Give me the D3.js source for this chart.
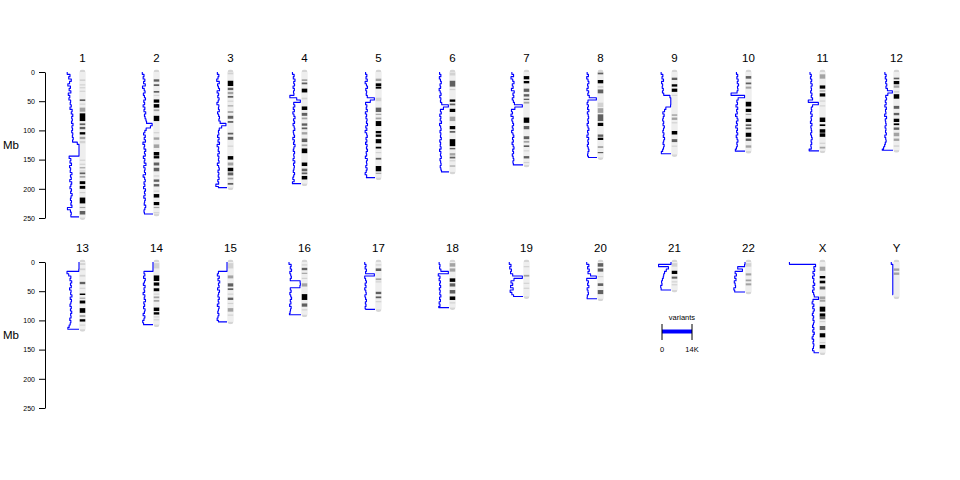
<!DOCTYPE html>
<html><head><meta charset="utf-8">
<script src="https://cdn.jsdelivr.net/npm/d3@7"></script>
<style>body{margin:0;background:#fff} text{font-family:"Liberation Sans",Arial,sans-serif}</style>
</head><body><svg id="c" width="960" height="480"></svg>
<script>
const chromNames = ["1","2","3","4","5","6","7","8","9","10","11","12","13","14","15","16","17","18","19","20","21","22","X","Y"];
const chromLengthsMb = [249.3,243.2,198.0,191.2,180.9,171.1,159.1,146.4,141.2,135.5,135.0,133.9,115.2,107.3,102.5,90.4,81.2,78.1,59.1,63.0,48.1,51.3,155.3,59.4];
const axisTicksMb = [0,50,100,150,200,250];
const legendTickValues = [0,14];
const legendTickLabels = ["0","14K"];
const legendTitle = "variants";
const axisTitle = "Mb";
const densityMaxK = 14;
const binMb = 4;

// cytobands: [startMb, endMb, stain]
const bands1 = [[12.6,15.4,25],[21,23,25],[26,28,25],[32,34,25],[46.8,49.7,75],[54,56,25],[61,68,50],[70.8,84,100],[88,91,75],[94,98,75],[103,107,100],[111,115,50],[118,122,25],[150,152,25],[157,159,25],[163,165,50],[168.5,170.5,25],[172,175,75],[178,181,50],[187,192,100],[195,200,100],[205.5,207.5,25],[215,225,100],[231,233,50],[238,244,75]];
const bands2 = [[12.5,16.5,75],[21,24,75],[32.5,35.4,75],[39,41,25],[47,52.5,100],[55,61,100],[64,67,50],[75,84,100],[103,105,25],[112,116,50],[124,130,50],[137,143,100],[144,148,100],[155,160,75],[164,170,75],[177,179,25],[184,188,75],[192,196,75],[203,205,25],[209,215,100],[222.6,228,100],[231,233,50],[240,242,25]];
const bands3 = [[1,4,25],[15,24,100],[27,31,75],[34,38,50],[41,44,75],[49,51,25],[57,59,50],[67,70,50],[75,80,75],[84,87,75],[104,107,75],[111,116,75],[126,128,25],[144,150,100],[155,160,50],[164,170,100],[172,177,75],[181,184,50],[190,193,75]];
const bands4 = [[12.5,15.4,50],[18,21,75],[28.5,35,100],[44,47,25],[59,65,100],[70,75,75],[78,81,50],[88,92,75],[95,98,75],[103,107,50],[114,120,75],[124,127,50],[131,139,100],[155,161,100],[165.5,170,75],[172,175,75],[178,184,100]];
const bands5 = [[11.4,15.4,50],[19.4,24,100],[25,28.5,100],[44,50,25],[61,68.5,75],[71.5,73.5,50],[78,81,50],[84,92.5,100],[101,105,100],[107,111,100],[115,122,100],[128,131,100],[137,139,25],[147,150,75],[161,170,100],[172.5,174.5,50]];
const bands6 = [[1,6,25],[15,25,75],[29,31,25],[47,51,100],[54,57,75],[63,68.5,100],[76.5,84,50],[92.5,98,100],[101,104,75],[115,127,100],[130,132.4,75],[139,143,50],[145,148,75],[151,153,25],[160,162,50]];
const bands7 = [[7,12.5,100],[15.4,19.4,100],[28.5,34,75],[38,42,75],[45.7,48,75],[51,54,50],[78,87,100],[92.5,98,75],[110,115,75],[118,121,50],[125.6,128.4,75],[134,136,25],[144,148,75],[154,156,25]];
const bands8 = [[1,4,75],[13.7,19.4,100],[24,27,25],[30,36.5,75],[52.5,60,25],[62,70,50],[72.5,84,75],[87,92.5,100],[107,111,75],[112.5,116.4,100],[127,130,50],[137,139,75]];
const bands9 = [[9.7,13.7,75],[21,25,100],[28.5,34,100],[39,41,25],[72.5,75,50],[78,82,50],[86,88,25],[101,107,100],[115,120,75],[126,128,25]];
const bands10 = [[7,11.4,75],[18,21,75],[25,28.5,50],[51,59,100],[63,68.5,100],[71.5,73.5,50],[80,85.6,100],[89.6,92.5,75],[95,98,75],[104,111,100],[114,118,75],[125.6,129.6,50]];
const bands11 = [[4,11.4,50],[23,28.5,100],[31.5,33.5,50],[36.5,42,100],[48.7,50.7,25],[57,59,25],[78,85.6,100],[89.6,92.5,100],[98,104,100],[105,111,100],[121,123,25],[128,131,50]];
const bands12 = [[9.7,12.5,75],[15.4,21,100],[23,27,50],[32.5,35.4,25],[38,45.7,100],[58,63,75],[70,74,75],[80,85.6,100],[88,91,100],[95,99,75],[104,110,50],[114,118,50],[125.6,128,25]];
const bands13 = [[2,5,25],[11,14,25],[22,25,25],[34,38,75],[44,46,25],[54,56.5,100],[61,63,50],[66,71,100],[79,87,100],[91,94,50],[98,102,100],[107,109,25]];
const bands14 = [[2,11,25],[23,32.5,100],[35,40.5,100],[45,50,100],[54,56,25],[59,62,50],[65,68,50],[78,84,100],[86,90,100],[93,95,25],[98,100,25]];
const bands15 = [[2,11,25],[23,28,50],[36.5,42,75],[45,48,75],[54,56,25],[61,65,75],[70,72,25],[79,85,50],[90,92,25]];
const bands16 = [[4,6,25],[10,14,75],[18.4,20.4,50],[27,29,25],[36.5,42,50],[55,65,100],[71,76.5,75],[81,83,25]];
const bands17 = [[4,6,25],[11,15.4,75],[28,31,50],[33,35,25],[51,55,75],[59,62,75],[67,69,25]];
const bands18 = [[2,8,50],[11,16.5,50],[28,34,100],[36.5,42,75],[48,54,75],[59,65,100],[69,71,25]];
const bands19 = [[7,9,25],[22,25,50],[35.5,37.5,25],[44,46,25]];
const bands20 = [[2,8,75],[11,16.5,75],[24,26,25],[36.5,41,75],[48,55,75]];
const bands21 = [[2,8,25],[15,20.5,100],[25,28.5,75],[33,35,25],[38,40,25]];
const bands22 = [[2,8,25],[19.4,23,50],[30,33,50],[36.5,40,50]];
const bandsX = [[8,15,50],[24,28,100],[32,36.5,100],[42,47,75],[59,64,50],[65,68,50],[76.5,85,100],[88,93.6,100],[93.6,98,75],[101,103,25],[109.6,116.4,75],[122,129,100],[137,139,25],[142,148,100]];
const bandsY = [[11,15,50],[18,22,50]];

// variant density (thousands of variants per 4 Mb bin)
const dens1 = [5.5,4.2,4.8,3.6,4.4,5.2,4.0,4.6,3.8,5.0,4.3,4.7,3.9,4.1,3.6,4.2,3.2,3.6,2.9,3.4,3.1,3.5,2.8,3.3,3.0,3.4,2.9,3.1,2.7,3.0,0.8,0,0,0,0,0,4.6,3.8,4.2,3.5,4.4,3.9,4.1,3.3,4.0,3.6,4.3,3.4,3.8,4.2,3.5,3.9,3.2,3.7,4.0,3.5,3.8,3.3,5.4,4.0,3.6,3.8];
const dens2 = [5.0,4.2,4.6,3.8,4.4,3.6,4.9,4.1,3.7,4.5,4.0,3.5,4.3,3.9,4.6,3.8,4.2,3.4,4.0,3.7,3.3,3.0,0.4,1.2,3.2,3.8,4.4,3.6,4.1,3.5,4.7,3.9,4.2,3.4,4.0,3.6,4.5,3.8,4.1,3.3,4.3,3.7,4.0,3.5,4.6,3.9,3.6,4.2,3.8,4.4,3.5,4.0,3.7,4.3,3.6,3.9,4.1,3.4,3.8,4.2,4.0];
const dens3 = [4.5,3.8,4.2,4.8,3.6,4.4,4.0,3.5,4.6,3.9,4.3,3.7,4.1,4.7,3.8,4.0,3.6,4.4,3.9,3.5,3.8,3.2,0.5,2.5,3.6,4.0,3.8,4.4,3.7,4.2,3.5,4.6,3.9,4.1,3.6,4.3,3.8,4.0,3.7,4.5,3.9,3.6,4.2,3.8,4.1,3.7,4.3,3.9,5.2,4.0];
const dens4 = [4.0,3.2,3.6,2.8,3.4,3.0,3.7,3.1,3.5,3.3,5.2,2.0,0.3,3.4,2.9,3.6,3.1,3.8,3.3,2.8,3.5,3.0,3.7,3.2,2.9,3.6,3.4,3.0,3.8,3.1,3.5,2.8,3.3,3.6,3.0,3.4,3.2,3.7,2.9,3.5,3.1,3.3,3.6,3.0,3.4,3.8,3.2,4.0];
const dens5 = [4.4,3.8,4.2,3.6,4.6,4.0,3.5,4.3,3.9,4.1,3.6,0.3,2.2,4.4,3.8,4.1,3.6,4.5,3.9,4.2,3.7,4.0,3.5,4.3,3.8,4.6,3.9,3.6,4.2,3.8,4.4,3.7,4.0,3.5,4.1,3.9,4.5,3.6,4.0,3.8,4.3,3.7,4.1,4.6,3.9,4.0];
const dens6 = [4.4,3.8,4.5,4.0,3.6,4.2,3.9,4.6,4.1,3.7,4.3,3.8,4.0,3.4,0.3,2.6,4.0,3.6,4.3,3.8,4.1,3.5,4.4,3.9,3.7,4.2,3.8,4.0,3.6,4.3,3.9,4.1,3.7,4.4,3.8,4.0,3.6,4.2,3.9,3.7,4.1,3.8,3.5];
const dens7 = [5.2,4.4,5.6,4.8,4.2,5.0,4.6,5.4,4.1,4.7,4.3,5.0,4.5,4.0,0.3,3.8,5.4,4.9,5.6,4.6,5.2,4.8,4.4,5.0,4.6,5.3,4.7,4.3,4.9,4.5,5.1,4.6,4.2,4.8,4.4,5.0,4.6,4.3,4.7,4.5];
const dens8 = [4.6,4.0,4.8,4.2,3.8,4.4,4.1,4.7,3.9,4.3,3.6,0.3,4.2,4.6,4.0,4.4,3.8,4.5,4.1,3.9,4.3,4.0,4.6,4.2,3.8,4.4,4.1,4.7,3.9,4.3,4.0,4.5,4.1,3.8,4.2,4.4,4.0];
const dens9 = [4.6,3.8,4.2,3.5,4.4,3.9,4.1,3.6,4.0,3.4,0.5,0.1,0.1,0.1,0.2,2.4,3.0,3.8,3.2,3.6,3.9,3.4,3.7,3.1,3.5,3.8,3.3,3.6,3.0,3.4,3.7,3.2,3.5,3.9,4.5];
const dens10 = [4.0,3.4,3.8,3.2,3.6,3.0,3.5,3.3,3.7,6.5,0.2,3.2,3.8,3.5,4.2,3.4,3.9,3.6,4.4,3.7,3.3,4.0,3.6,4.3,3.5,3.9,3.4,4.1,3.7,3.3,3.8,3.6,4.0,4.5];
const dens11 = [4.2,3.6,4.0,3.4,3.8,3.2,3.7,3.5,3.9,3.3,3.6,3.0,5.0,0.3,3.0,3.6,3.4,3.9,3.2,3.7,3.5,4.0,3.3,3.8,3.6,3.4,3.9,3.5,3.2,3.7,3.4,3.8,3.6,4.6];
const dens12 = [3.8,3.2,3.6,3.0,3.4,2.9,3.3,2.6,0.3,2.4,3.4,3.0,3.6,3.2,3.8,3.1,3.5,3.3,3.9,3.0,3.6,3.4,3.2,3.7,3.3,3.5,3.1,3.8,3.4,3.2,3.6,3.9,4.4,5.0];
const dens13 = [0,0,0,0.1,5.6,4.8,3.8,4.2,3.4,4.0,3.6,4.4,3.7,3.9,3.3,4.1,3.5,3.8,4.2,3.6,4.0,3.4,3.9,3.7,4.3,3.8,4.1,4.6,5.2];
const dens14 = [0,0,0,0,4.2,3.8,4.4,3.6,4.0,4.5,3.7,4.2,3.9,4.6,3.8,4.1,3.5,4.3,3.9,4.4,3.7,4.0,4.6,3.8,4.2,4.8,4.4];
const dens15 = [0,0,0,0,4.0,4.5,3.6,4.2,3.4,4.0,3.7,4.4,3.5,3.9,4.2,3.6,4.1,3.8,4.5,3.7,4.0,4.3,3.8,4.2,4.6,4.0];
const dens16 = [5.6,4.6,5.0,4.4,5.2,4.8,4.5,5.0,0.4,0.3,0.5,5.0,4.6,5.2,4.8,4.4,5.0,4.7,5.3,4.6,4.9,5.1,5.4];
const dens17 = [4.8,4.2,4.6,4.0,4.4,0.3,4.8,4.4,4.0,4.6,4.2,4.8,4.3,4.1,4.7,4.4,4.0,4.5,4.2,4.6,4.3];
const dens18 = [4.6,4.2,4.4,3.8,0.3,5.0,4.2,4.6,4.0,4.4,3.9,4.5,4.1,4.3,3.8,4.4,4.0,4.6,4.2,4.8];
const dens19 = [6.4,5.6,6.2,5.4,5.8,4.8,0.3,4.2,5.6,4.8,5.8,4.6,6.0,5.2,4.4];
const dens20 = [4.8,3.8,4.4,3.6,4.2,3.0,0.3,4.8,4.0,4.4,3.8,4.6,4.2,4.0,4.5,4.6];
const dens21 = [0,5.8,1.2,2.2,3.0,3.4,3.6,4.0,4.4,4.2,4.8,4.6];
const dens22 = [0,0.2,3.4,1.2,4.6,4.0,4.8,4.2,5.0,4.6,4.4,5.2,4.8];
const densX = [13.8,1.6,2.4,2.0,2.8,2.2,3.0,2.4,2.6,2.0,2.8,2.3,3.0,2.5,2.2,0.2,2.8,3.2,2.4,2.9,2.2,2.7,3.1,2.5,2.8,2.3,2.6,3.0,2.4,2.9,2.2,2.7,3.2,2.5,2.8,2.4,2.6,3.0,2.3];
const densY = [0.8,0.1,0.1,0.1,0.1,0.1,0.1,0.1,0.1,0.1,0.1,0.1,0.1,0.1];

const bandSets = [bands1,bands2,bands3,bands4,bands5,bands6,bands7,bands8,bands9,bands10,bands11,bands12,bands13,bands14,bands15,bands16,bands17,bands18,bands19,bands20,bands21,bands22,bandsX,bandsY];
const densSets = [dens1,dens2,dens3,dens4,dens5,dens6,dens7,dens8,dens9,dens10,dens11,dens12,dens13,dens14,dens15,dens16,dens17,dens18,dens19,dens20,dens21,dens22,densX,densY];

const svg = d3.select("#c");
const colX = d3.scaleLinear().domain([0, 11]).range([82.5, 896.5]);
const rowTops = [72, 262];
const yScales = rowTops.map(t => d3.scaleLinear().domain([0, 250]).range([t, t + 146]));
const densPx = d3.scaleLinear().domain([0, densityMaxK]).range([0, 30]);
const stainColor = d3.scaleOrdinal().domain([25, 50, 75, 100]).range(["#d2d2d2", "#a3a3a3", "#606060", "#000000"]);
const ideoW = 6;

// axes
yScales.forEach((y, r) => {
  const g = svg.append("g").attr("transform", "translate(45,0)")
    .call(d3.axisLeft(y).tickValues(axisTicksMb).tickSize(6).tickSizeOuter(0).tickPadding(4));
  g.selectAll("text").attr("font-size", 7).attr("fill", "#000").style("font-family", "'Liberation Sans',Arial,sans-serif");
  g.selectAll("line,path").attr("stroke", "#000");
  svg.append("text").attr("x", 3).attr("y", y(125) + 4).attr("font-size", 11.5).text(axisTitle);
});

chromNames.forEach((name, i) => {
  const row = i < 12 ? 0 : 1;
  const col = i % 12;
  const cx = colX(col);
  const y = yScales[row];
  const len = chromLengthsMb[i];
  const g = svg.append("g");
  g.append("text").attr("x", cx).attr("y", y(0) - 10).attr("text-anchor", "middle")
    .attr("font-size", 11.5).text(name);
  // ideogram
  const clipId = "clip" + i;
  g.append("clipPath").attr("id", clipId).append("rect")
    .attr("x", cx - ideoW / 2).attr("y", y(0) - 2.5).attr("width", ideoW)
    .attr("height", y(len) - y(0) + 5).attr("rx", 3).attr("ry", 3);
  const ig = g.append("g").attr("clip-path", `url(#${clipId})`);
  ig.append("rect").attr("x", cx - ideoW / 2).attr("y", y(0) - 2.5).attr("width", ideoW)
    .attr("height", y(len) - y(0) + 5).attr("fill", "#d6d6d6");
  ig.append("rect").attr("x", cx - ideoW / 2).attr("y", y(0)).attr("width", ideoW)
    .attr("height", y(len) - y(0)).attr("fill", "#eeeeee");
  ig.selectAll("rect.band").data(bandSets[i]).join("rect").attr("class", "band")
    .attr("x", cx - ideoW / 2).attr("width", ideoW)
    .attr("y", d => y(d[0])).attr("height", d => y(d[1]) - y(d[0]))
    .attr("fill", d => stainColor(d[2]));
  // density line
  const dens = densSets[i];
  const endPos = Math.min(dens.length * binMb, len);
  const pts = dens.map((v, k) => [v, Math.min(k * binMb, len)]);
  pts.push([dens[dens.length - 1], endPos]);
  pts.push([0, endPos]);
  const zeroX = cx - ideoW / 2 - 0.5;
  const line = d3.line().x(d => zeroX - densPx(d[0])).y(d => y(d[1])).curve(d3.curveStepBefore);
  g.append("path").attr("d", line(pts)).attr("fill", "none").attr("stroke", "#0000ff")
    .attr("stroke-width", 1.1).attr("stroke-linejoin", "round");
});

// legend
const lg = svg.append("g");
const legX = d3.scaleLinear().domain([0, densityMaxK]).range([662, 692]);
lg.append("text").attr("x", 682).attr("y", 320).attr("text-anchor", "middle").attr("font-size", 7.5).text(legendTitle);
lg.append("line").attr("x1", legX(0)).attr("x2", legX(densityMaxK)).attr("y1", 331.5).attr("y2", 331.5)
  .attr("stroke", "#0000ff").attr("stroke-width", 4);
lg.selectAll("line.tk").data(legendTickValues).join("line").attr("class", "tk")
  .attr("x1", d => legX(d)).attr("x2", d => legX(d)).attr("y1", 324).attr("y2", 340)
  .attr("stroke", "#000").attr("stroke-width", 1);
lg.selectAll("text.tl").data(legendTickValues).join("text").attr("class", "tl")
  .attr("x", d => legX(d)).attr("y", 351.5).attr("text-anchor", "middle").attr("font-size", 7.5)
  .text((d, k) => legendTickLabels[k]);
</script></body></html>
